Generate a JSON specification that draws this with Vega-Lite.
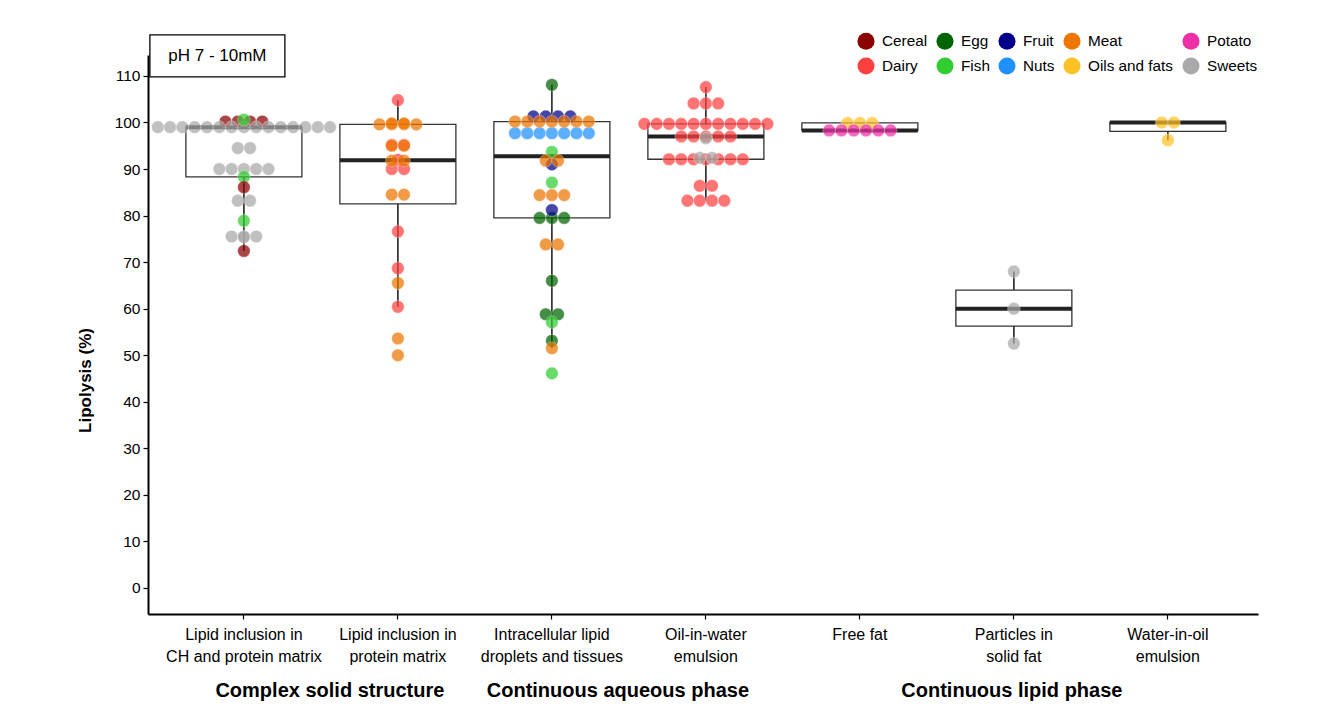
{
  "$schema": "https://vega.github.io/schema/vega-lite/v6.json",
  "width": 1110,
  "height": 559,
  "autosize": {"type": "none"},
  "padding": {"left": 148, "top": 55, "right": 77, "bottom": 101},
  "background": "white",
  "config": {
    "font": "Liberation Sans",
    "view": {"stroke": null},
    "axis": {"grid": false, "domainColor": "black", "tickColor": "black", "labelColor": "black", "titleColor": "black", "domainWidth": 2, "tickWidth": 1.2},
    "axisX": {"labelFontSize": 16, "labelLineHeight": 22, "labelPadding": 7, "tickSize": 5, "labelAngle": 0, "title": null},
    "axisY": {"labelFontSize": 15.5, "tickSize": 5, "labelPadding": 3, "titleFontSize": 17, "titleFontWeight": "bold", "titleX": -54, "titleY": 325, "titleAlign": "center", "titleAngle": -90, "titleBaseline": "bottom", "values": [0, 10, 20, 30, 40, 50, 60, 70, 80, 90, 100, 110]},
    "legend": {"labelFontSize": 15.3, "labelColor": "black"}
  },
  "datasets": {
    "pts": [
      {"structure": "Lipid inclusion in\nCH and protein matrix", "food": "Cereal", "lipolysis": 100.2},
      {"structure": "Lipid inclusion in\nCH and protein matrix", "food": "Cereal", "lipolysis": 100.2},
      {"structure": "Lipid inclusion in\nCH and protein matrix", "food": "Cereal", "lipolysis": 100.2},
      {"structure": "Lipid inclusion in\nCH and protein matrix", "food": "Cereal", "lipolysis": 100.2},
      {"structure": "Lipid inclusion in\nCH and protein matrix", "food": "Sweets", "lipolysis": 99},
      {"structure": "Lipid inclusion in\nCH and protein matrix", "food": "Sweets", "lipolysis": 99},
      {"structure": "Lipid inclusion in\nCH and protein matrix", "food": "Sweets", "lipolysis": 99},
      {"structure": "Lipid inclusion in\nCH and protein matrix", "food": "Sweets", "lipolysis": 99},
      {"structure": "Lipid inclusion in\nCH and protein matrix", "food": "Sweets", "lipolysis": 99},
      {"structure": "Lipid inclusion in\nCH and protein matrix", "food": "Sweets", "lipolysis": 99},
      {"structure": "Lipid inclusion in\nCH and protein matrix", "food": "Sweets", "lipolysis": 99},
      {"structure": "Lipid inclusion in\nCH and protein matrix", "food": "Sweets", "lipolysis": 99},
      {"structure": "Lipid inclusion in\nCH and protein matrix", "food": "Sweets", "lipolysis": 99},
      {"structure": "Lipid inclusion in\nCH and protein matrix", "food": "Sweets", "lipolysis": 99},
      {"structure": "Lipid inclusion in\nCH and protein matrix", "food": "Sweets", "lipolysis": 99},
      {"structure": "Lipid inclusion in\nCH and protein matrix", "food": "Sweets", "lipolysis": 99},
      {"structure": "Lipid inclusion in\nCH and protein matrix", "food": "Sweets", "lipolysis": 99},
      {"structure": "Lipid inclusion in\nCH and protein matrix", "food": "Sweets", "lipolysis": 99},
      {"structure": "Lipid inclusion in\nCH and protein matrix", "food": "Sweets", "lipolysis": 99},
      {"structure": "Lipid inclusion in\nCH and protein matrix", "food": "Fish", "lipolysis": 100.6},
      {"structure": "Lipid inclusion in\nCH and protein matrix", "food": "Sweets", "lipolysis": 94.5},
      {"structure": "Lipid inclusion in\nCH and protein matrix", "food": "Sweets", "lipolysis": 94.5},
      {"structure": "Lipid inclusion in\nCH and protein matrix", "food": "Sweets", "lipolysis": 90},
      {"structure": "Lipid inclusion in\nCH and protein matrix", "food": "Sweets", "lipolysis": 90},
      {"structure": "Lipid inclusion in\nCH and protein matrix", "food": "Sweets", "lipolysis": 90},
      {"structure": "Lipid inclusion in\nCH and protein matrix", "food": "Sweets", "lipolysis": 90},
      {"structure": "Lipid inclusion in\nCH and protein matrix", "food": "Sweets", "lipolysis": 90},
      {"structure": "Lipid inclusion in\nCH and protein matrix", "food": "Fish", "lipolysis": 88.3},
      {"structure": "Lipid inclusion in\nCH and protein matrix", "food": "Cereal", "lipolysis": 86.1},
      {"structure": "Lipid inclusion in\nCH and protein matrix", "food": "Sweets", "lipolysis": 83.2},
      {"structure": "Lipid inclusion in\nCH and protein matrix", "food": "Sweets", "lipolysis": 83.2},
      {"structure": "Lipid inclusion in\nCH and protein matrix", "food": "Fish", "lipolysis": 78.9},
      {"structure": "Lipid inclusion in\nCH and protein matrix", "food": "Sweets", "lipolysis": 75.5},
      {"structure": "Lipid inclusion in\nCH and protein matrix", "food": "Sweets", "lipolysis": 75.5},
      {"structure": "Lipid inclusion in\nCH and protein matrix", "food": "Sweets", "lipolysis": 75.5},
      {"structure": "Lipid inclusion in\nCH and protein matrix", "food": "Sweets", "lipolysis": 75.4},
      {"structure": "Lipid inclusion in\nCH and protein matrix", "food": "Cereal", "lipolysis": 72.4},

      {"structure": "Lipid inclusion in\nprotein matrix", "food": "Dairy", "lipolysis": 104.8},
      {"structure": "Lipid inclusion in\nprotein matrix", "food": "Meat", "lipolysis": 99.6},
      {"structure": "Lipid inclusion in\nprotein matrix", "food": "Meat", "lipolysis": 99.6},
      {"structure": "Lipid inclusion in\nprotein matrix", "food": "Meat", "lipolysis": 99.6},
      {"structure": "Lipid inclusion in\nprotein matrix", "food": "Meat", "lipolysis": 99.6},
      {"structure": "Lipid inclusion in\nprotein matrix", "food": "Meat", "lipolysis": 99.8},
      {"structure": "Lipid inclusion in\nprotein matrix", "food": "Meat", "lipolysis": 99.8},
      {"structure": "Lipid inclusion in\nprotein matrix", "food": "Dairy", "lipolysis": 95.2},
      {"structure": "Lipid inclusion in\nprotein matrix", "food": "Dairy", "lipolysis": 95.2},
      {"structure": "Lipid inclusion in\nprotein matrix", "food": "Meat", "lipolysis": 95},
      {"structure": "Lipid inclusion in\nprotein matrix", "food": "Meat", "lipolysis": 95},
      {"structure": "Lipid inclusion in\nprotein matrix", "food": "Dairy", "lipolysis": 90},
      {"structure": "Lipid inclusion in\nprotein matrix", "food": "Dairy", "lipolysis": 90},
      {"structure": "Lipid inclusion in\nprotein matrix", "food": "Dairy", "lipolysis": 92},
      {"structure": "Lipid inclusion in\nprotein matrix", "food": "Meat", "lipolysis": 91.8},
      {"structure": "Lipid inclusion in\nprotein matrix", "food": "Meat", "lipolysis": 91.8},
      {"structure": "Lipid inclusion in\nprotein matrix", "food": "Meat", "lipolysis": 84.5},
      {"structure": "Lipid inclusion in\nprotein matrix", "food": "Meat", "lipolysis": 84.5},
      {"structure": "Lipid inclusion in\nprotein matrix", "food": "Dairy", "lipolysis": 76.6},
      {"structure": "Lipid inclusion in\nprotein matrix", "food": "Dairy", "lipolysis": 68.7},
      {"structure": "Lipid inclusion in\nprotein matrix", "food": "Meat", "lipolysis": 65.5},
      {"structure": "Lipid inclusion in\nprotein matrix", "food": "Dairy", "lipolysis": 60.4},
      {"structure": "Lipid inclusion in\nprotein matrix", "food": "Meat", "lipolysis": 53.6},
      {"structure": "Lipid inclusion in\nprotein matrix", "food": "Meat", "lipolysis": 50},

      {"structure": "Intracellular lipid\ndroplets and tissues", "food": "Egg", "lipolysis": 108.1},
      {"structure": "Intracellular lipid\ndroplets and tissues", "food": "Fruit", "lipolysis": 101.3},
      {"structure": "Intracellular lipid\ndroplets and tissues", "food": "Fruit", "lipolysis": 101.3},
      {"structure": "Intracellular lipid\ndroplets and tissues", "food": "Fruit", "lipolysis": 101.3},
      {"structure": "Intracellular lipid\ndroplets and tissues", "food": "Fruit", "lipolysis": 101.3},
      {"structure": "Intracellular lipid\ndroplets and tissues", "food": "Nuts", "lipolysis": 97.7},
      {"structure": "Intracellular lipid\ndroplets and tissues", "food": "Nuts", "lipolysis": 97.7},
      {"structure": "Intracellular lipid\ndroplets and tissues", "food": "Nuts", "lipolysis": 97.7},
      {"structure": "Intracellular lipid\ndroplets and tissues", "food": "Nuts", "lipolysis": 97.7},
      {"structure": "Intracellular lipid\ndroplets and tissues", "food": "Nuts", "lipolysis": 97.7},
      {"structure": "Intracellular lipid\ndroplets and tissues", "food": "Nuts", "lipolysis": 97.7},
      {"structure": "Intracellular lipid\ndroplets and tissues", "food": "Nuts", "lipolysis": 97.7},
      {"structure": "Intracellular lipid\ndroplets and tissues", "food": "Meat", "lipolysis": 100.2},
      {"structure": "Intracellular lipid\ndroplets and tissues", "food": "Meat", "lipolysis": 100.2},
      {"structure": "Intracellular lipid\ndroplets and tissues", "food": "Meat", "lipolysis": 100.2},
      {"structure": "Intracellular lipid\ndroplets and tissues", "food": "Meat", "lipolysis": 100.2},
      {"structure": "Intracellular lipid\ndroplets and tissues", "food": "Meat", "lipolysis": 100.2},
      {"structure": "Intracellular lipid\ndroplets and tissues", "food": "Meat", "lipolysis": 100.2},
      {"structure": "Intracellular lipid\ndroplets and tissues", "food": "Meat", "lipolysis": 100.2},
      {"structure": "Intracellular lipid\ndroplets and tissues", "food": "Fish", "lipolysis": 93.7},
      {"structure": "Intracellular lipid\ndroplets and tissues", "food": "Fruit", "lipolysis": 91},
      {"structure": "Intracellular lipid\ndroplets and tissues", "food": "Meat", "lipolysis": 91.8},
      {"structure": "Intracellular lipid\ndroplets and tissues", "food": "Meat", "lipolysis": 91.8},
      {"structure": "Intracellular lipid\ndroplets and tissues", "food": "Fish", "lipolysis": 87.1},
      {"structure": "Intracellular lipid\ndroplets and tissues", "food": "Meat", "lipolysis": 84.4},
      {"structure": "Intracellular lipid\ndroplets and tissues", "food": "Meat", "lipolysis": 84.4},
      {"structure": "Intracellular lipid\ndroplets and tissues", "food": "Meat", "lipolysis": 84.4},
      {"structure": "Intracellular lipid\ndroplets and tissues", "food": "Egg", "lipolysis": 79.5},
      {"structure": "Intracellular lipid\ndroplets and tissues", "food": "Egg", "lipolysis": 79.5},
      {"structure": "Intracellular lipid\ndroplets and tissues", "food": "Egg", "lipolysis": 79.5},
      {"structure": "Intracellular lipid\ndroplets and tissues", "food": "Fruit", "lipolysis": 81.2},
      {"structure": "Intracellular lipid\ndroplets and tissues", "food": "Meat", "lipolysis": 73.8},
      {"structure": "Intracellular lipid\ndroplets and tissues", "food": "Meat", "lipolysis": 73.8},
      {"structure": "Intracellular lipid\ndroplets and tissues", "food": "Egg", "lipolysis": 66},
      {"structure": "Intracellular lipid\ndroplets and tissues", "food": "Egg", "lipolysis": 58.8},
      {"structure": "Intracellular lipid\ndroplets and tissues", "food": "Egg", "lipolysis": 58.8},
      {"structure": "Intracellular lipid\ndroplets and tissues", "food": "Fish", "lipolysis": 57.1},
      {"structure": "Intracellular lipid\ndroplets and tissues", "food": "Egg", "lipolysis": 53.1},
      {"structure": "Intracellular lipid\ndroplets and tissues", "food": "Meat", "lipolysis": 51.5},
      {"structure": "Intracellular lipid\ndroplets and tissues", "food": "Fish", "lipolysis": 46.1},

      {"structure": "Oil-in-water\nemulsion", "food": "Dairy", "lipolysis": 107.6},
      {"structure": "Oil-in-water\nemulsion", "food": "Dairy", "lipolysis": 104.1},
      {"structure": "Oil-in-water\nemulsion", "food": "Dairy", "lipolysis": 104.1},
      {"structure": "Oil-in-water\nemulsion", "food": "Dairy", "lipolysis": 104.1},
      {"structure": "Oil-in-water\nemulsion", "food": "Dairy", "lipolysis": 99.7},
      {"structure": "Oil-in-water\nemulsion", "food": "Dairy", "lipolysis": 99.7},
      {"structure": "Oil-in-water\nemulsion", "food": "Dairy", "lipolysis": 99.7},
      {"structure": "Oil-in-water\nemulsion", "food": "Dairy", "lipolysis": 99.7},
      {"structure": "Oil-in-water\nemulsion", "food": "Dairy", "lipolysis": 99.7},
      {"structure": "Oil-in-water\nemulsion", "food": "Dairy", "lipolysis": 99.7},
      {"structure": "Oil-in-water\nemulsion", "food": "Dairy", "lipolysis": 99.7},
      {"structure": "Oil-in-water\nemulsion", "food": "Dairy", "lipolysis": 99.7},
      {"structure": "Oil-in-water\nemulsion", "food": "Dairy", "lipolysis": 99.7},
      {"structure": "Oil-in-water\nemulsion", "food": "Dairy", "lipolysis": 99.7},
      {"structure": "Oil-in-water\nemulsion", "food": "Dairy", "lipolysis": 99.7},
      {"structure": "Oil-in-water\nemulsion", "food": "Dairy", "lipolysis": 97},
      {"structure": "Oil-in-water\nemulsion", "food": "Dairy", "lipolysis": 97},
      {"structure": "Oil-in-water\nemulsion", "food": "Dairy", "lipolysis": 97},
      {"structure": "Oil-in-water\nemulsion", "food": "Dairy", "lipolysis": 97},
      {"structure": "Oil-in-water\nemulsion", "food": "Dairy", "lipolysis": 97},
      {"structure": "Oil-in-water\nemulsion", "food": "Sweets", "lipolysis": 96.6},
      {"structure": "Oil-in-water\nemulsion", "food": "Dairy", "lipolysis": 92.1},
      {"structure": "Oil-in-water\nemulsion", "food": "Dairy", "lipolysis": 92.1},
      {"structure": "Oil-in-water\nemulsion", "food": "Dairy", "lipolysis": 92.1},
      {"structure": "Oil-in-water\nemulsion", "food": "Dairy", "lipolysis": 92.1},
      {"structure": "Oil-in-water\nemulsion", "food": "Dairy", "lipolysis": 92.1},
      {"structure": "Oil-in-water\nemulsion", "food": "Dairy", "lipolysis": 92.1},
      {"structure": "Oil-in-water\nemulsion", "food": "Dairy", "lipolysis": 92.1},
      {"structure": "Oil-in-water\nemulsion", "food": "Sweets", "lipolysis": 92.4},
      {"structure": "Oil-in-water\nemulsion", "food": "Sweets", "lipolysis": 92.4},
      {"structure": "Oil-in-water\nemulsion", "food": "Dairy", "lipolysis": 86.4},
      {"structure": "Oil-in-water\nemulsion", "food": "Dairy", "lipolysis": 86.4},
      {"structure": "Oil-in-water\nemulsion", "food": "Dairy", "lipolysis": 83.2},
      {"structure": "Oil-in-water\nemulsion", "food": "Dairy", "lipolysis": 83.2},
      {"structure": "Oil-in-water\nemulsion", "food": "Dairy", "lipolysis": 83.2},
      {"structure": "Oil-in-water\nemulsion", "food": "Dairy", "lipolysis": 83.2},

      {"structure": "Free fat", "food": "Oils and fats", "lipolysis": 99.9},
      {"structure": "Free fat", "food": "Oils and fats", "lipolysis": 99.9},
      {"structure": "Free fat", "food": "Oils and fats", "lipolysis": 99.9},
      {"structure": "Free fat", "food": "Potato", "lipolysis": 98.3},
      {"structure": "Free fat", "food": "Potato", "lipolysis": 98.3},
      {"structure": "Free fat", "food": "Potato", "lipolysis": 98.3},
      {"structure": "Free fat", "food": "Potato", "lipolysis": 98.3},
      {"structure": "Free fat", "food": "Potato", "lipolysis": 98.3},
      {"structure": "Free fat", "food": "Potato", "lipolysis": 98.3},

      {"structure": "Particles in\nsolid fat", "food": "Sweets", "lipolysis": 68},
      {"structure": "Particles in\nsolid fat", "food": "Sweets", "lipolysis": 60},
      {"structure": "Particles in\nsolid fat", "food": "Sweets", "lipolysis": 52.5},

      {"structure": "Water-in-oil\nemulsion", "food": "Oils and fats", "lipolysis": 100},
      {"structure": "Water-in-oil\nemulsion", "food": "Oils and fats", "lipolysis": 100},
      {"structure": "Water-in-oil\nemulsion", "food": "Oils and fats", "lipolysis": 96.2}
    ]
  },
  "data": {"name": "pts"},
  "layer": [
    {
      "mark": {
        "type": "boxplot",
        "extent": 1.5,
        "size": 116,
        "outliers": false,
        "box": {"fill": "white", "stroke": "#333333", "strokeWidth": 1.3, "opacity": 1},
        "median": {"color": "#222222", "thickness": 4, "opacity": 1},
        "rule": {"stroke": "#222222", "strokeWidth": 1.6, "opacity": 1}
      },
      "encoding": {
        "x": {
          "field": "structure", "type": "nominal", "title": null,
          "scale": {
            "domain": ["Lipid inclusion in\nCH and protein matrix", "Lipid inclusion in\nprotein matrix", "Intracellular lipid\ndroplets and tissues", "Oil-in-water\nemulsion", "Free fat", "Particles in\nsolid fat", "Water-in-oil\nemulsion"],
            "paddingInner": 0, "paddingOuter": 0.104, "align": 0.59
          },
          "axis": {"labelExpr": "split(datum.label, '\\n')"}
        },
        "y": {
          "field": "lipolysis", "type": "quantitative", "title": "Lipolysis (%)",
          "scale": {"domain": [-5.6, 114.5], "nice": false, "zero": false}
        }
      }
    },
    {
      "transform": [
        {"window": [{"op": "row_number", "as": "rn"}, {"op": "count", "as": "cnt"}], "groupby": ["structure", "lipolysis"], "frame": [null, null]},
        {"calculate": "datum.rn - (datum.cnt + 1) / 2", "as": "slot"}
      ],
      "mark": {"type": "point", "filled": true, "size": 160, "opacity": 0.72, "stroke": "white", "strokeWidth": 0.6, "strokeOpacity": 0.7},
      "encoding": {
        "x": {"field": "structure", "type": "nominal", "title": null},
        "xOffset": {"field": "slot", "type": "quantitative", "scale": {"domain": [-6.26, 6.26], "range": [0, 154]}},
        "y": {"field": "lipolysis", "type": "quantitative", "title": "Lipolysis (%)"},
        "color": {
          "field": "food", "type": "nominal",
          "scale": {
            "domain": ["Cereal", "Egg", "Fruit", "Meat", "Potato", "Dairy", "Fish", "Nuts", "Oils and fats", "Sweets"],
            "range": ["#8B0000", "#006400", "#00008B", "#EE7600", "#EE30A7", "#FF4040", "#32CD32", "#1E90FF", "#FFC125", "#A9A9A9"]
          },
          "legend": {
            "title": null, "orient": "none", "legendX": 709, "legendY": -23, "direction": "horizontal", "columns": 5,
            "symbolType": "circle", "symbolSize": 290, "symbolOpacity": 1, "symbolStrokeWidth": 0,
            "labelFontSize": 15.3, "labelOffset": 7, "columnPadding": 8, "rowPadding": 7
          }
        }
      }
    },
    {
      "data": {"values": [{"label": "pH 7 - 10mM"}]},
      "mark": {"type": "point", "shape": "M-1,-0.311L1,-0.311L1,0.311L-1,0.311Z", "size": 18225, "filled": true, "fill": "white", "stroke": "black", "strokeWidth": 1.3, "opacity": 1, "xOffset": -26.5},
      "encoding": {
        "x": {"datum": "Lipid inclusion in\nCH and protein matrix", "type": "nominal", "title": null},
        "y": {"datum": 114.3, "type": "quantitative", "title": null}
      }
    },
    {
      "data": {"values": [{"label": "pH 7 - 10mM"}]},
      "mark": {"type": "text", "fontSize": 17, "color": "black", "align": "center", "baseline": "middle", "xOffset": -26.5},
      "encoding": {
        "x": {"datum": "Lipid inclusion in\nCH and protein matrix", "type": "nominal", "title": null},
        "y": {"datum": 114.3, "type": "quantitative", "title": null},
        "text": {"field": "label"}
      }
    },
    {
      "data": {"values": [{"label": "Complex solid structure"}]},
      "mark": {"type": "text", "fontSize": 20, "fontWeight": "bold", "color": "black", "align": "center", "baseline": "middle", "xOffset": 86},
      "encoding": {
        "x": {"datum": "Lipid inclusion in\nCH and protein matrix", "type": "nominal", "title": null},
        "y": {"datum": -22.1, "type": "quantitative", "title": null},
        "text": {"field": "label"}
      }
    },
    {
      "data": {"values": [{"label": "Continuous aqueous phase"}]},
      "mark": {"type": "text", "fontSize": 20, "fontWeight": "bold", "color": "black", "align": "center", "baseline": "middle", "xOffset": 66},
      "encoding": {
        "x": {"datum": "Intracellular lipid\ndroplets and tissues", "type": "nominal", "title": null},
        "y": {"datum": -22.1, "type": "quantitative", "title": null},
        "text": {"field": "label"}
      }
    },
    {
      "data": {"values": [{"label": "Continuous lipid phase"}]},
      "mark": {"type": "text", "fontSize": 20, "fontWeight": "bold", "color": "black", "align": "center", "baseline": "middle", "xOffset": -2},
      "encoding": {
        "x": {"datum": "Particles in\nsolid fat", "type": "nominal", "title": null},
        "y": {"datum": -22.1, "type": "quantitative", "title": null},
        "text": {"field": "label"}
      }
    }
  ]
}
